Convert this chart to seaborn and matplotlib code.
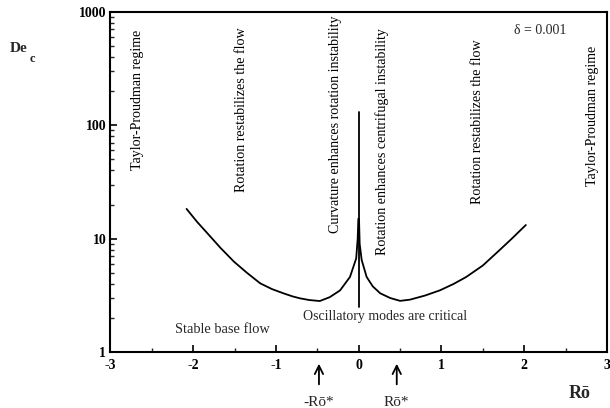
import numpy as np
import pandas as pd
import matplotlib
matplotlib.use("Agg")
import matplotlib.pyplot as plt
import seaborn as sns
from matplotlib.ticker import LogLocator, MultipleLocator, FixedLocator, NullFormatter

# ---- data ----
left_x = [-2.08, -1.95, -1.83, -1.67, -1.51, -1.35, -1.19, -1.05, -0.91, -0.80,
          -0.71, -0.60, -0.47, -0.35, -0.225, -0.105, -0.03, -0.012, -0.004]
left_de = [18.3, 14.0, 11.2, 8.3, 6.3, 5.0, 4.04, 3.6, 3.3, 3.1,
           2.98, 2.88, 2.82, 3.05, 3.5, 4.6, 6.7, 10.0, 15.0]
right_x = [0.004, 0.012, 0.036, 0.096, 0.17, 0.26, 0.38, 0.50, 0.62, 0.80,
           0.98, 1.15, 1.30, 1.50, 1.70, 1.85, 2.02]
right_de = [15.0, 9.0, 6.5, 4.6, 3.8, 3.3, 3.0, 2.83, 2.9, 3.15,
            3.5, 4.0, 4.6, 5.8, 7.9, 10.0, 13.2]
spike_x = [0.0, 0.0]
spike_de = [2.5, 130.0]

x_ticks = [-3, -2, -1, 0, 1, 2, 3]
y_ticks = [1, 10, 100, 1000]
y_ticklabels = ["1", "10", "100", "1000"]

region_labels = [
    "Taylor-Proudman regime",
    "Rotation restabilizes the flow",
    "Curvature enhances rotation instability",
    "Rotation enhances centrifugal instability",
    "Rotation restabilizes the flow",
    "Taylor-Proudman regime",
]
arrow_x = [-0.48, 0.46]
arrow_labels = ["-Rō*", "Rō*"]

# ---- figure ----
sns.set_theme(style="white")
plt.rcParams["font.family"] = ["Liberation Serif", "DejaVu Serif"]

fig = plt.figure(figsize=(6.10, 4.08), dpi=100)
ax = fig.add_axes([0.181, 0.137, 0.814, 0.834])

df_l = pd.DataFrame({"x": left_x, "De": left_de})
df_r = pd.DataFrame({"x": right_x, "De": right_de})
df_s = pd.DataFrame({"x": spike_x, "De": spike_de})
for d in (df_l, df_r, df_s):
    sns.lineplot(data=d, x="x", y="De", ax=ax, color="black", linewidth=1.3,
                 sort=False, estimator=None)

ax.set_yscale("log")
ax.set_xlim(-3, 3)
ax.set_ylim(1, 1000)
ax.set_xlabel("")
ax.set_ylabel("")

ax.xaxis.set_major_locator(FixedLocator(x_ticks))
ax.xaxis.set_minor_locator(MultipleLocator(0.5))
ax.set_xticklabels([str(v) for v in x_ticks], fontsize=10, fontweight="bold")
ax.yaxis.set_major_locator(FixedLocator(y_ticks))
ax.yaxis.set_minor_locator(LogLocator(base=10, subs=np.arange(2, 10)))
ax.yaxis.set_minor_formatter(NullFormatter())
ax.set_yticklabels(y_ticklabels, fontsize=10, fontweight="bold")

ax.tick_params(axis="x", which="major", pad=5)
ax.tick_params(axis="y", which="major", pad=3)
ax.tick_params(axis="both", which="major", direction="in", length=5, width=1.2,
               colors="black", bottom=True, left=True)
ax.tick_params(axis="both", which="minor", direction="in", length=3, width=1.0,
               bottom=True, left=True)
for s in ax.spines.values():
    s.set_color("black")
    s.set_linewidth(1.5)

# region labels (vertical): layout positions (data x, log10 De of centre)
region_pos = [(-2.67, 2.22), (-1.41, 2.14), (-0.285, 2.01),
              (0.28, 1.86), (1.44, 2.03), (2.82, 2.08)]
for txt, (xv, yv) in zip(region_labels, region_pos):
    ax.text(xv, 10 ** yv, txt, rotation=90, ha="center", va="center",
            fontsize=10.1, color="black")

ax.text(0.865, 0.945, "δ = 0.001", transform=ax.transAxes, ha="center",
        va="center", fontsize=10)
ax.text(-1.65, 1.57, "Stable base flow", ha="center", va="center", fontsize=10.4)
ax.text(0.32, 2.04, "Oscillatory modes are critical", ha="center", va="center",
        fontsize=10)

# arrows below the axis
for xv, lab in zip(arrow_x, arrow_labels):
    ax.annotate("", xy=(xv, -0.026), xytext=(xv, -0.103),
                xycoords=("data", "axes fraction"),
                textcoords=("data", "axes fraction"),
                arrowprops=dict(arrowstyle="->", color="black", lw=1.3,
                                mutation_scale=15))
    ax.annotate(lab, xy=(xv, -0.148), xycoords=("data", "axes fraction"),
                ha="center", va="center", fontsize=11, annotation_clip=False)

# axis titles
fig.text(580 / 610, 1 - 393 / 408, "Rō", ha="center", va="center",
         fontsize=13, fontweight="bold")
fig.text(19 / 610, 1 - 49 / 408, "De", ha="center", va="center",
         fontsize=11, fontweight="bold")
fig.text(32 / 610, 1 - 59 / 408, "c", ha="center", va="center",
         fontsize=9, fontweight="bold")

fig.savefig("out.png", dpi=100)
